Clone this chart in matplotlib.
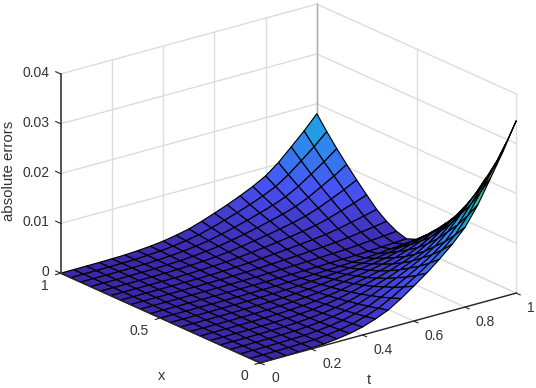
#!/usr/bin/env python3
"""Absolute error surface over x and t, drawn in the style of a MATLAB surf."""
import matplotlib
matplotlib.use("Agg")
import matplotlib.pyplot as plt
from matplotlib.colors import LinearSegmentedColormap
from mpl_toolkits.mplot3d import proj3d
import numpy as np

# values, grid step 0.05 on both axes
t_grid = [0.00, 0.05, 0.10, 0.15, 0.20, 0.25, 0.30, 0.35, 0.40, 0.45, 0.50,
          0.55, 0.60, 0.65, 0.70, 0.75, 0.80, 0.85, 0.90, 0.95, 1.00]
x_grid = [0.00, 0.05, 0.10, 0.15, 0.20, 0.25, 0.30, 0.35, 0.40, 0.45, 0.50,
          0.55, 0.60, 0.65, 0.70, 0.75, 0.80, 0.85, 0.90, 0.95, 1.00]
# error along the edge x=0, for each t
err_x0 = [0.0, 0.00002, 0.00005, 0.0001, 0.00018, 0.0003, 0.0006, 0.001, 0.0016, 0.0025, 0.0036,
          0.0052, 0.007, 0.0089, 0.011, 0.0133, 0.016, 0.0198, 0.0245, 0.0293, 0.0346]
# error along the edge t=1, for each x
err_t1 = [0.0346, 0.0293, 0.0245, 0.0205, 0.0165, 0.0132, 0.0102, 0.0078, 0.0056, 0.0036, 0.0018,
          0.0010, 0.0016, 0.0027, 0.0042, 0.0062, 0.0083, 0.0105, 0.0128, 0.0153, 0.018]
t_ticks = [0, 0.2, 0.4, 0.6, 0.8, 1]
t_labels = ["0", "0.2", "0.4", "0.6", "0.8", "1"]
x_ticks = [0, 0.5, 1]
x_labels = ["0", "0.5", "1"]
z_ticks = [0, 0.01, 0.02, 0.03, 0.04]
z_labels = ["0", "0.01", "0.02", "0.03", "0.04"]

plt.rcParams["font.family"] = ["Liberation Sans", "DejaVu Sans"]
TXT = "#333333"
GRID = "#dcdcdc"

parula = LinearSegmentedColormap.from_list("parula", [
    (0.00, (0.2422, 0.1504, 0.6603)), (0.25, (0.2810, 0.3228, 0.9579)),
    (0.50, (0.1540, 0.5902, 0.9218)), (0.65, (0.0, 0.73, 0.75)),
    (0.80, (0.50, 0.76, 0.40)), (0.90, (0.90, 0.73, 0.22)),
    (1.00, (0.9769, 0.9839, 0.0805))])

fig = plt.figure(figsize=(5.36, 3.88), dpi=100)
S = 560  # side of the square 3d axes, px
ax = fig.add_axes([0.9 / 536, -83.1 / 388, S / 536, S / 388], projection="3d", computed_zorder=False)
ax.set_proj_type("ortho")
ax.view_init(elev=20.5, azim=-127.9)
ax.set_box_aspect((325.6, 325.6, 213.4), zoom=0.877)
ax.set_xlim(0, 1); ax.set_ylim(0, 1); ax.set_zlim(0, 0.04)
ax.set_axis_off()
ax.patch.set_alpha(0)

# walls and floor grid
for t in t_ticks:
    ax.plot([t, t], [1, 1], [0, 0.04], color=GRID, lw=1, zorder=1)
    ax.plot([t, t], [0, 1], [0, 0], color=GRID, lw=1, zorder=1)
for x in x_ticks:
    ax.plot([1, 1], [x, x], [0, 0.04], color=GRID, lw=1, zorder=1)
    ax.plot([0, 1], [x, x], [0, 0], color=GRID, lw=1, zorder=1)
for z in z_ticks:
    ax.plot([0, 1], [1, 1], [z, z], color=GRID, lw=1, zorder=1)
    ax.plot([1, 1], [0, 1], [z, z], color=GRID, lw=1, zorder=1)
ax.plot([1, 1], [1, 1], [0, 0.04], color="#b0b0b0", lw=1, zorder=1)

# surface
T, X = np.meshgrid(t_grid, x_grid, indexing="xy")
Z = np.outer(err_t1, err_x0) / err_t1[0]
corners = np.stack([Z[:-1, :-1], Z[1:, :-1], Z[:-1, 1:], Z[1:, 1:]]).max(axis=0)
cells = np.zeros_like(Z)
cells[:-1, :-1] = corners
ax.plot_surface(T, X, Z, facecolors=parula(cells / Z.max()), rstride=1, cstride=1, shade=False,
                edgecolor="black", linewidth=0.85, antialiased=True, zorder=2)

# axis lines and ticks
ax.plot([0, 1], [0, 0], [0, 0], color="#262626", lw=1, zorder=3)
ax.plot([0, 0], [0, 1], [0, 0], color="#262626", lw=1, zorder=3)
ax.plot([0, 0], [1, 1], [0, 0.04], color="#555555", lw=1.4, zorder=3)
for t in t_ticks:
    ax.plot([t, t], [0, -0.02], [0, 0], color="#262626", lw=0.8, zorder=3)
for x in x_ticks:
    ax.plot([0, -0.02], [x, x], [0, 0], color="#262626", lw=0.8, zorder=3)
for z in z_ticks:
    ax.plot([0, 0], [1, 1.025], [z, z], color="#262626", lw=0.8, zorder=3)

# labels sit at a pixel offset from the projected tick
def label(tx, xx, zz, txt, dx, dy, ha):
    px, py, _ = proj3d.proj_transform(tx, xx, zz, ax.get_proj())
    ax.annotate(txt, xy=(px, py), xytext=(dx, dy), textcoords="offset pixels", ha=ha, va="center",
                fontsize=10, color=TXT, annotation_clip=False)

for t, s in zip(t_ticks, t_labels):
    label(t, 0, 0, s, 11, -15, "left")
for x, s in zip(x_ticks, x_labels):
    label(0, x, 0, s, -12, -13, "right")
for z, s in zip(z_ticks, z_labels):
    label(0, 1, z, s, -11, 1, "right")

fig.text(162 / 536, 1 - 376 / 388, "x", ha="center", va="center", fontsize=10.5, color=TXT)
fig.text(369 / 536, 1 - 380 / 388, "t", ha="center", va="center", fontsize=10.5, color=TXT)
fig.text(9 / 536, 1 - 171 / 388, "absolute errors", ha="center", va="center", rotation=90, fontsize=10.8, color=TXT)

fig.savefig("out.png", dpi=100)
